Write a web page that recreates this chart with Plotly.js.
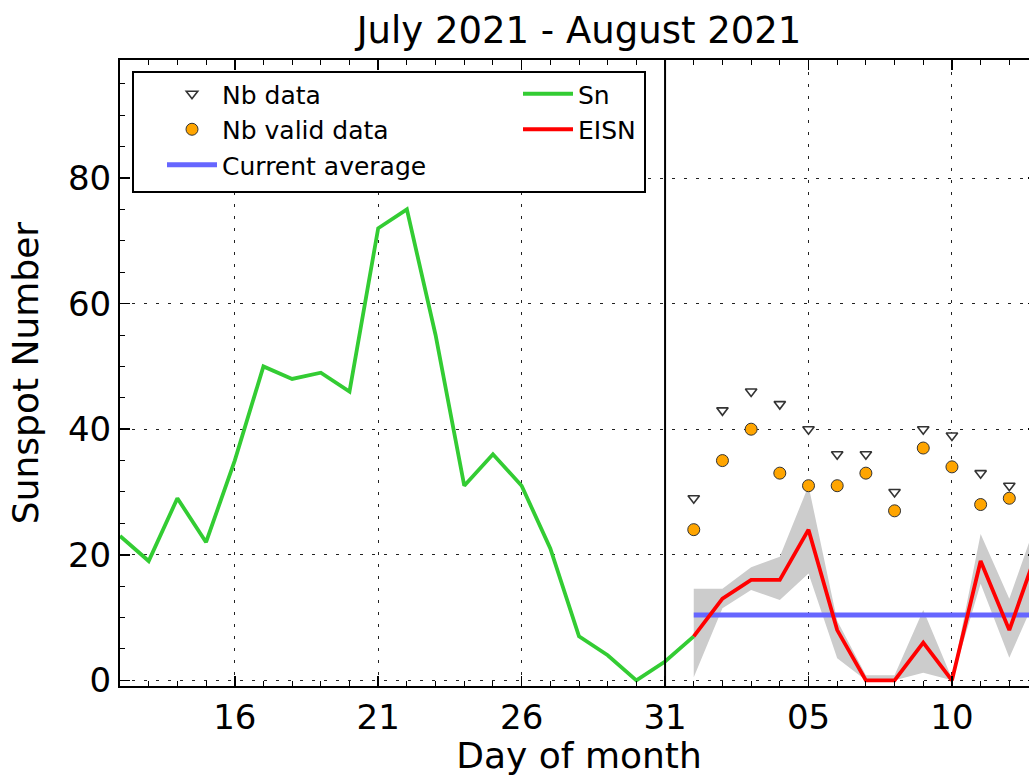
<!DOCTYPE html>
<html>
<head>
<meta charset="utf-8">
<script src="https://cdn.plot.ly/plotly-3.0.1.min.js"></script>
<style>
html,body{margin:0;padding:0;overflow:hidden;background:#fff;}
#chart{width:1050px;height:776px;}
</style>
</head>
<body>
<div id="chart"></div>
<script>
// ---- Data ----
const snDates = ['2021-07-12','2021-07-13','2021-07-14','2021-07-15','2021-07-16','2021-07-17','2021-07-18',
  '2021-07-19','2021-07-20','2021-07-21','2021-07-22','2021-07-23','2021-07-24','2021-07-25','2021-07-26',
  '2021-07-27','2021-07-28','2021-07-29','2021-07-30','2021-07-31','2021-08-01'];
const snValues = [23,19,29,22,35,50,48,49,46,72,75,55,31,36,31,21,7,4,0,3,7];

const eisnDates = ['2021-08-01','2021-08-02','2021-08-03','2021-08-04','2021-08-05','2021-08-06','2021-08-07',
  '2021-08-08','2021-08-09','2021-08-10','2021-08-11','2021-08-12','2021-08-13'];
const eisnValues = [7,13,16,16,24,8,0,0,6,0,19,8,21];
const eisnUpper  = [14.6,14.6,18,19.7,31,9.5,0.8,0.8,11.2,0.3,23.3,13,26];
const eisnLower  = [0.5,11.5,14.4,12.8,17,3.5,0,0,1.2,0,15.4,3.6,14];

const nbDates = ['2021-08-01','2021-08-02','2021-08-03','2021-08-04','2021-08-05','2021-08-06',
  '2021-08-07','2021-08-08','2021-08-09','2021-08-10','2021-08-11','2021-08-12'];
const nbData  = [29,43,46,44,40,36,36,30,40,39,33,31];
const nbValid = [24,35,40,33,31,31,33,27,37,34,28,29];

const avgDates  = ['2021-08-01','2021-08-31'];
const avgValues = [10.4,10.4];

const monthBoundary = '2021-07-31';
const titleText = 'July 2021 - August 2021';

// ---- Traces ----
const FONT = 'DejaVu Sans, Liberation Sans, sans-serif';
const data = [
  {x: eisnDates, y: eisnLower, mode:'lines', line:{width:0, color:'rgba(0,0,0,0)'}, showlegend:false, hoverinfo:'skip'},
  {x: eisnDates, y: eisnUpper, mode:'lines', fill:'tonexty', fillcolor:'#cccccc', line:{width:0, color:'rgba(0,0,0,0)'}, showlegend:false, hoverinfo:'skip'},
  {x: avgDates, y: avgValues, mode:'lines', name:'Current average', legend:'legend', legendrank: 3,
    line:{color:'#6666ff', width:5}},
  {x: snDates, y: snValues, mode:'lines', name:'Sn', legend:'legend2', legendrank: 1,
    line:{color:'#33cc33', width:3.8}},
  {x: eisnDates, y: eisnValues, mode:'lines', name:'EISN', legend:'legend2', legendrank: 2,
    line:{color:'#ff0000', width:3.8}},
  {x: nbDates, y: nbData, mode:'markers', name:'Nb data', legend:'legend', legendrank: 1,
    marker:{symbol:'triangle-down', size:10, color:'white', line:{color:'#333', width:1.6}}},
  {x: nbDates, y: nbValid, mode:'markers', name:'Nb valid data', legend:'legend', legendrank: 2,
    marker:{symbol:'circle', size:12, color:'#ffa500', line:{color:'#333', width:1}}}
];

const L = 120, R = 1038, T = 60, B = 686;
const pw = R - L, ph = B - T;
const px = v => (v - L) / pw;
const py = v => (B - v) / ph;

const layout = {
  width: 1050, height: 776,
  margin: {l: L, r: 1050 - R, t: T, b: 776 - B},
  paper_bgcolor: 'white', plot_bgcolor: 'white',
  font: {family: FONT, color: 'black'},
  title: {text: titleText, font: {size: 37, color: 'black', family: FONT},
    x: 0.5, xref: 'paper', xanchor: 'center', y: 1 - 30/776, yref: 'container', yanchor: 'middle'},
  xaxis: {
    type: 'date', range: ['2021-07-12', '2021-08-13'],
    tickmode: 'linear', tick0: '2021-07-16', dtick: 5*86400000, tickformat: '%d',
    ticks: 'inside', ticklen: 10, tickwidth: 1.5, tickcolor: 'black',
    tickfont: {size: 34, family: FONT, color: 'black'},
    minor: {dtick: 86400000, ticks: 'inside', ticklen: 5, tickcolor: 'black', tickwidth: 1, showgrid: false},
    showline: true, linecolor: 'black', linewidth: 2, mirror: 'allticks',
    showgrid: true, gridcolor: '#222', gridwidth: 1, griddash: '3px,9px',
    zeroline: false, automargin: false,
    title: {text: 'Day of month', font: {size: 36, family: FONT, color: 'black'}, standoff: 12}
  },
  yaxis: {
    range: [-0.9, 98.8],
    tickmode: 'linear', tick0: 0, dtick: 20,
    ticks: 'inside', ticklen: 10, tickwidth: 1.5, tickcolor: 'black',
    tickfont: {size: 34, family: FONT, color: 'black'},
    minor: {dtick: 5, ticks: 'inside', ticklen: 5, tickcolor: 'black', tickwidth: 1, showgrid: false},
    showline: true, linecolor: 'black', linewidth: 2, mirror: 'allticks',
    showgrid: true, gridcolor: '#222', gridwidth: 1, griddash: '3px,9px',
    zeroline: false, automargin: false,
    title: {text: 'Sunspot Number', font: {size: 36, family: FONT, color: 'black'}, standoff: 18}
  },
  shapes: [
    {type: 'line', xref: 'x', yref: 'paper', x0: monthBoundary, x1: monthBoundary, y0: 0, y1: 1,
      line: {color: 'black', width: 2}, layer: 'above'},
    {type: 'rect', xref: 'paper', yref: 'paper', x0: px(133), x1: px(645), y0: py(192), y1: py(72),
      fillcolor: 'white', line: {color: 'black', width: 2}, layer: 'above'}
  ],
  legend: {x: px(162), y: py(71), xanchor: 'left', yanchor: 'top', bgcolor: 'rgba(0,0,0,0)',
    borderwidth: 0, itemwidth: 50, traceorder: 'normal', font: {size: 25, family: FONT, color: 'black'}, tracegroupgap: 0},
  legend2: {x: px(518), y: py(71), xanchor: 'left', yanchor: 'top', bgcolor: 'rgba(0,0,0,0)',
    borderwidth: 0, itemwidth: 50, traceorder: 'normal', font: {size: 25, family: FONT, color: 'black'}, tracegroupgap: 0},
  showlegend: true
};

Plotly.newPlot('chart', data, layout, {displayModeBar: false, staticPlot: true});
</script>
</body>
</html>
